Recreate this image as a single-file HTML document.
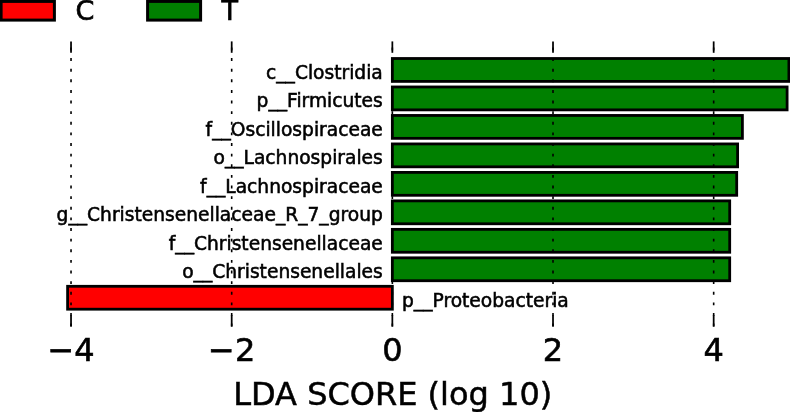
<!DOCTYPE html>
<html><head><meta charset="utf-8"><title>LDA SCORE</title>
<style>
html,body{margin:0;padding:0;background:#fff;}
body{width:790px;height:412px;overflow:hidden;}
svg{display:block;}
text{font-family:"DejaVu Sans","Liberation Sans",sans-serif;fill:#000;}
.lab{font-size:18.65px;stroke:#000;stroke-width:0.55px;}
.tick{font-size:32px;stroke:#000;stroke-width:0.6px;}
.leg{font-size:27px;stroke:#000;stroke-width:0.7px;}
</style></head><body>
<svg width="790" height="412" viewBox="0 0 790 412" xmlns="http://www.w3.org/2000/svg">
<rect x="0" y="0" width="790" height="412" fill="#fff"/>

<rect x="1.1" y="1.4" width="53.3" height="18.7" fill="#ff0000" stroke="#000" stroke-width="3"/>
<rect x="147.6" y="1.4" width="53" height="18.7" fill="#008000" stroke="#000" stroke-width="3"/>
<text class="leg" x="75.5" y="20.1">C</text>
<text class="leg" x="221.6" y="20.3">T</text>
<rect x="392.35" y="58.50" width="396.55" height="22.90" fill="#008000" stroke="#000" stroke-width="2.8"/>
<text class="lab" text-anchor="end" x="382.8" y="78.85">c__Clostridia</text>
<rect x="392.35" y="86.97" width="394.75" height="22.90" fill="#008000" stroke="#000" stroke-width="2.8"/>
<text class="lab" text-anchor="end" x="382.8" y="107.33">p__Firmicutes</text>
<rect x="392.35" y="115.45" width="350.05" height="22.90" fill="#008000" stroke="#000" stroke-width="2.8"/>
<text class="lab" text-anchor="end" x="382.8" y="135.80">f__Oscillospiraceae</text>
<rect x="392.35" y="143.93" width="345.25" height="22.90" fill="#008000" stroke="#000" stroke-width="2.8"/>
<text class="lab" text-anchor="end" x="382.8" y="164.28">o__Lachnospirales</text>
<rect x="392.35" y="172.40" width="344.35" height="22.90" fill="#008000" stroke="#000" stroke-width="2.8"/>
<text class="lab" text-anchor="end" x="382.8" y="192.75">f__Lachnospiraceae</text>
<rect x="392.35" y="200.88" width="337.35" height="22.90" fill="#008000" stroke="#000" stroke-width="2.8"/>
<text class="lab" text-anchor="end" x="382.8" y="221.22">g__Christensenellaceae_R_7_group</text>
<rect x="392.35" y="229.35" width="337.35" height="22.90" fill="#008000" stroke="#000" stroke-width="2.8"/>
<text class="lab" text-anchor="end" x="382.8" y="249.70">f__Christensenellaceae</text>
<rect x="392.35" y="257.83" width="337.35" height="22.90" fill="#008000" stroke="#000" stroke-width="2.8"/>
<text class="lab" text-anchor="end" x="382.8" y="278.18">o__Christensenellales</text>
<rect x="67.60" y="286.30" width="324.75" height="22.90" fill="#ff0000" stroke="#000" stroke-width="2.8"/>
<text class="lab" x="402" y="306.65">p__Proteobacteria</text>
<line x1="71.03" x2="71.03" y1="47.5" y2="326.5" stroke="#000" stroke-width="1.6" stroke-dasharray="2.9 7.72"/>
<line x1="71.03" x2="71.03" y1="41.4" y2="52.8" stroke="#000" stroke-width="1.75"/>
<line x1="71.03" x2="71.03" y1="315.2" y2="326.6" stroke="#000" stroke-width="1.75"/>
<text class="tick" text-anchor="middle" x="71.03" y="361">−4</text>
<line x1="231.69" x2="231.69" y1="47.5" y2="326.5" stroke="#000" stroke-width="1.6" stroke-dasharray="2.9 7.72"/>
<line x1="231.69" x2="231.69" y1="41.4" y2="52.8" stroke="#000" stroke-width="1.75"/>
<line x1="231.69" x2="231.69" y1="315.2" y2="326.6" stroke="#000" stroke-width="1.75"/>
<text class="tick" text-anchor="middle" x="231.69" y="361">−2</text>
<line x1="392.35" x2="392.35" y1="47.5" y2="326.5" stroke="#000" stroke-width="1.6" stroke-dasharray="2.9 7.72"/>
<line x1="392.35" x2="392.35" y1="41.4" y2="52.8" stroke="#000" stroke-width="1.75"/>
<line x1="392.35" x2="392.35" y1="315.2" y2="326.6" stroke="#000" stroke-width="1.75"/>
<text class="tick" text-anchor="middle" x="392.35" y="361">0</text>
<line x1="553.01" x2="553.01" y1="47.5" y2="326.5" stroke="#000" stroke-width="1.6" stroke-dasharray="2.9 7.72"/>
<line x1="553.01" x2="553.01" y1="41.4" y2="52.8" stroke="#000" stroke-width="1.75"/>
<line x1="553.01" x2="553.01" y1="315.2" y2="326.6" stroke="#000" stroke-width="1.75"/>
<text class="tick" text-anchor="middle" x="553.01" y="361">2</text>
<line x1="713.67" x2="713.67" y1="47.5" y2="326.5" stroke="#000" stroke-width="1.6" stroke-dasharray="2.9 7.72"/>
<line x1="713.67" x2="713.67" y1="41.4" y2="52.8" stroke="#000" stroke-width="1.75"/>
<line x1="713.67" x2="713.67" y1="315.2" y2="326.6" stroke="#000" stroke-width="1.75"/>
<text class="tick" text-anchor="middle" x="713.67" y="361">4</text>
<text class="tick" style="stroke-width:0.5px" text-anchor="middle" x="392.7" y="405.4">LDA SCORE (log 10)</text>
</svg></body></html>
